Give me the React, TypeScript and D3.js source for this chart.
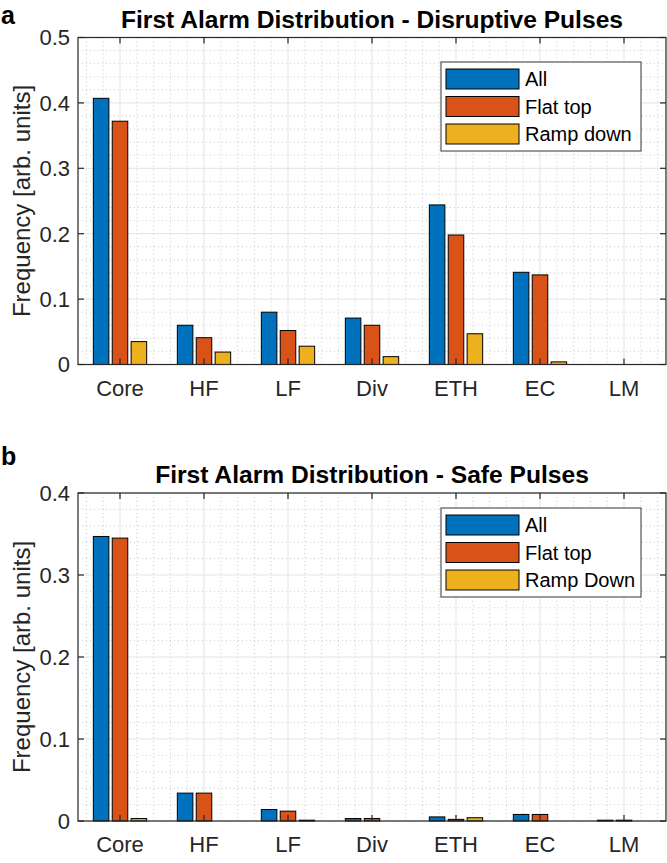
import React from "react";
import * as d3 from "d3";

const categories = ["Core", "HF", "LF", "Div", "ETH", "EC", "LM"];
const colors = ["#0072BD", "#D95319", "#EDB120"];

// panel a - disruptive pulses
const disruptiveNames = ["All", "Flat top", "Ramp down"];
const disruptiveAll = [0.407, 0.06, 0.08, 0.071, 0.244, 0.141, 0];
const disruptiveFlatTop = [0.372, 0.041, 0.052, 0.06, 0.198, 0.137, 0];
const disruptiveRampDown = [0.035, 0.019, 0.028, 0.012, 0.047, 0.004, 0];
const disruptiveTicks = [0, 0.1, 0.2, 0.3, 0.4, 0.5];

// panel b - safe pulses
const safeNames = ["All", "Flat top", "Ramp Down"];
const safeAll = [0.347, 0.034, 0.014, 0.003, 0.005, 0.008, 0.001];
const safeFlatTop = [0.345, 0.034, 0.012, 0.003, 0.002, 0.008, 0.001];
const safeRampDown = [0.003, 0, 0.001, 0, 0.004, 0, 0];
const safeTicks = [0, 0.1, 0.2, 0.3, 0.4];

const FONT = "'Liberation Sans', Arial, Helvetica, sans-serif";
const AX = "#262626";

interface PanelProps {
  letter: string;
  title: string;
  names: string[];
  series: number[][];
  ticks: number[];
  top: number;
  bottom: number;
  legendTop: number;
  letterY: number;
}

const left = 78;
const right = 666;
const barOffset = 0.225;
const barWidth = 0.185;

const Panel: React.FC<PanelProps> = ({ letter, title, names, series, ticks, top, bottom, legendTop, letterY }) => {
  const yMax = ticks[ticks.length - 1];
  const x = d3.scaleLinear().domain([0.5, categories.length + 0.5]).range([left, right]);
  const y = d3.scaleLinear().domain([0, yMax]).range([bottom, top]);

  const minorX = d3.range(0.6, categories.length + 0.5, 0.2).filter((v) => Math.abs(v - Math.round(v)) > 0.05);
  const minorY = d3.range(0, yMax + 0.001, 0.02).filter((v) => Math.abs(v * 10 - Math.round(v * 10)) > 0.01);

  const legendLeft = 441;
  const legendRight = 641;

  return (
    <g>
      <text x={1} y={letterY} fontFamily={FONT} fontWeight="bold" fontSize={25} fill="#000">
        {letter}
      </text>
      <text x={(left + right) / 2} y={top - 10} textAnchor="middle" fontFamily={FONT} fontWeight="bold" fontSize={24.6} fill="#000">
        {title}
      </text>
      <rect x={left} y={top} width={right - left} height={bottom - top} fill="#fff" />

      {/* minor grid */}
      {minorX.map((v) => (
        <line key={"mx" + v} x1={x(v)} x2={x(v)} y1={top} y2={bottom} stroke="#bdbdbd" strokeWidth={0.8} strokeDasharray="1,3" />
      ))}
      {minorY.map((v) => (
        <line key={"my" + v} x1={left} x2={right} y1={y(v)} y2={y(v)} stroke="#bdbdbd" strokeWidth={0.8} strokeDasharray="1,3" />
      ))}
      {/* major grid */}
      {categories.map((c, i) => (
        <line key={"gx" + c} x1={x(i + 1)} x2={x(i + 1)} y1={top} y2={bottom} stroke="#e3e3e3" strokeWidth={1} />
      ))}
      {ticks.map((t) => (
        <line key={"gy" + t} x1={left} x2={right} y1={y(t)} y2={y(t)} stroke="#e3e3e3" strokeWidth={1} />
      ))}

      {/* bars */}
      {series.map((vals, s) =>
        vals.map((v, i) => {
          const cx = i + 1 + (s - 1) * barOffset;
          return (
            <rect
              key={"b" + s + "-" + i}
              x={x(cx - barWidth / 2)}
              y={y(v)}
              width={x(barWidth) - x(0)}
              height={Math.max(0, y(0) - y(v))}
              fill={colors[s]}
              stroke="#000"
              strokeWidth={1}
            />
          );
        })
      )}

      {/* axes box and ticks */}
      <rect x={left} y={top} width={right - left} height={bottom - top} fill="none" stroke={AX} strokeWidth={1.2} />
      {categories.map((c, i) => (
        <g key={"tx" + c}>
          <line x1={x(i + 1)} x2={x(i + 1)} y1={bottom} y2={bottom - 6} stroke={AX} strokeWidth={1.2} />
          <line x1={x(i + 1)} x2={x(i + 1)} y1={top} y2={top + 6} stroke={AX} strokeWidth={1.2} />
          <text x={x(i + 1)} y={bottom + 31} textAnchor="middle" fontFamily={FONT} fontSize={22} fill={AX}>
            {c}
          </text>
        </g>
      ))}
      {ticks.map((t) => (
        <g key={"ty" + t}>
          <line x1={left} x2={left + 6} y1={y(t)} y2={y(t)} stroke={AX} strokeWidth={1.2} />
          <line x1={right} x2={right - 6} y1={y(t)} y2={y(t)} stroke={AX} strokeWidth={1.2} />
          <text x={left - 8} y={y(t)} dy="0.36em" textAnchor="end" fontFamily={FONT} fontSize={22} fill={AX}>
            {t === 0 ? "0" : d3.format(".1f")(t)}
          </text>
        </g>
      ))}
      <text
        transform={`translate(30,${(top + bottom) / 2}) rotate(-90)`}
        textAnchor="middle"
        fontFamily={FONT}
        fontSize={24}
        fill={AX}
      >
        Frequency [arb. units]
      </text>

      {/* legend */}
      <rect x={legendLeft} y={legendTop} width={legendRight - legendLeft} height={89} fill="#fff" stroke="#555" strokeWidth={1.2} />
      {names.map((n, s) => {
        const cy = legendTop + 17 + s * 27.5;
        return (
          <g key={"lg" + n}>
            <rect x={legendLeft + 5} y={cy - 10} width={73} height={20} fill={colors[s]} stroke="#000" strokeWidth={1} />
            <text x={legendLeft + 84} y={cy} dy="0.36em" fontFamily={FONT} fontSize={20} fill="#000">
              {n}
            </text>
          </g>
        );
      })}
    </g>
  );
};

export default function App() {
  return (
    <svg width={667} height={863} style={{ position: "absolute", left: 0, top: 0, background: "#fff" }}>
      <rect width={667} height={863} fill="#fff" />
      <Panel
        letter="a"
        title="First Alarm Distribution - Disruptive Pulses"
        names={disruptiveNames}
        series={[disruptiveAll, disruptiveFlatTop, disruptiveRampDown]}
        ticks={disruptiveTicks}
        top={37.5}
        bottom={364.5}
        legendTop={62}
        letterY={24}
      />
      <Panel
        letter="b"
        title="First Alarm Distribution - Safe Pulses"
        names={safeNames}
        series={[safeAll, safeFlatTop, safeRampDown]}
        ticks={safeTicks}
        top={493}
        bottom={821}
        legendTop={508}
        letterY={465}
      />
    </svg>
  );
}
